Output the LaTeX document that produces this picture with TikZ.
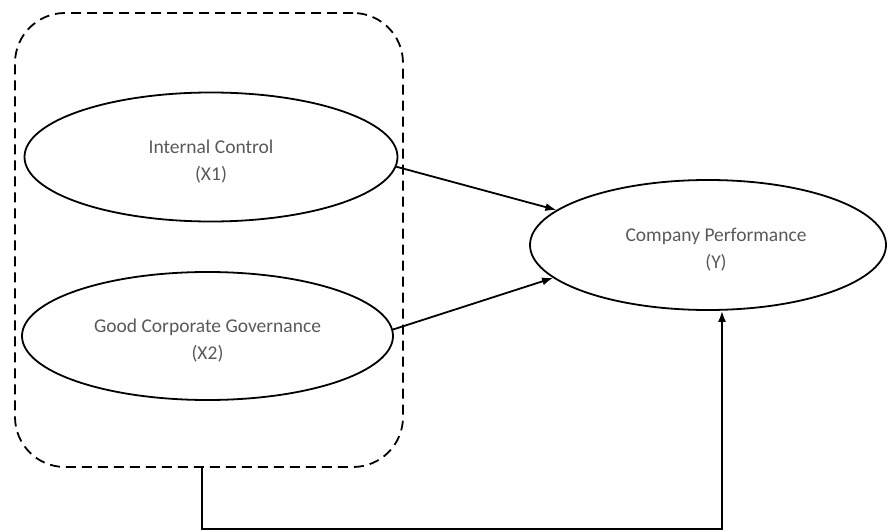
\documentclass[tikz,border=0pt]{standalone}
\usepackage{fontspec}
\setmainfont{Carlito}
\usetikzlibrary{shapes.geometric,arrows.meta}
\definecolor{txtgray}{HTML}{595959}
\tikzset{
  var/.style={ellipse, draw, line width=1.8pt, inner sep=0pt},
  lbl/.style={align=center, text=txtgray, font=\fontsize{19.5}{27}\selectfont, inner sep=0pt, yshift=-5pt},
  link/.style={line width=1.8pt, -{Latex[length=11pt,width=8pt]}},
  group/.style={draw, dash pattern=on 10pt off 6pt, line width=1.8pt, rounded corners=50pt}
}
\begin{document}
\begin{tikzpicture}[x=1pt,y=-1pt]
\useasboundingbox (0,0) rectangle (889,532);
\node[group, minimum width=388pt, minimum height=454pt] (grp) at (209,240) {};
\node[var, minimum width=373pt, minimum height=129pt] (x1) at (211,157) {};
\node[var, minimum width=371pt, minimum height=128pt] (x2) at (207.5,336) {};
\node[var, minimum width=356pt, minimum height=130pt] (y) at (708,245) {};
\node[lbl] (x1t) at (x1.center) {Internal Control\\(X1)};
\node[lbl] (x2t) at (x2.center) {Good Corporate Governance\\(X2)};
\node[lbl] (yt) at ([xshift=8pt]y.center) {Company Performance\\(Y)};
\draw[link] (x1.-3.4) -- (y.167.6);
\draw[link] (x2.2) -- (y.192.4);
\draw[link] ([xshift=-7pt]grp.south) -- ++(0,61) -| ([xshift=14pt]y.south);
\end{tikzpicture}
\end{document}
